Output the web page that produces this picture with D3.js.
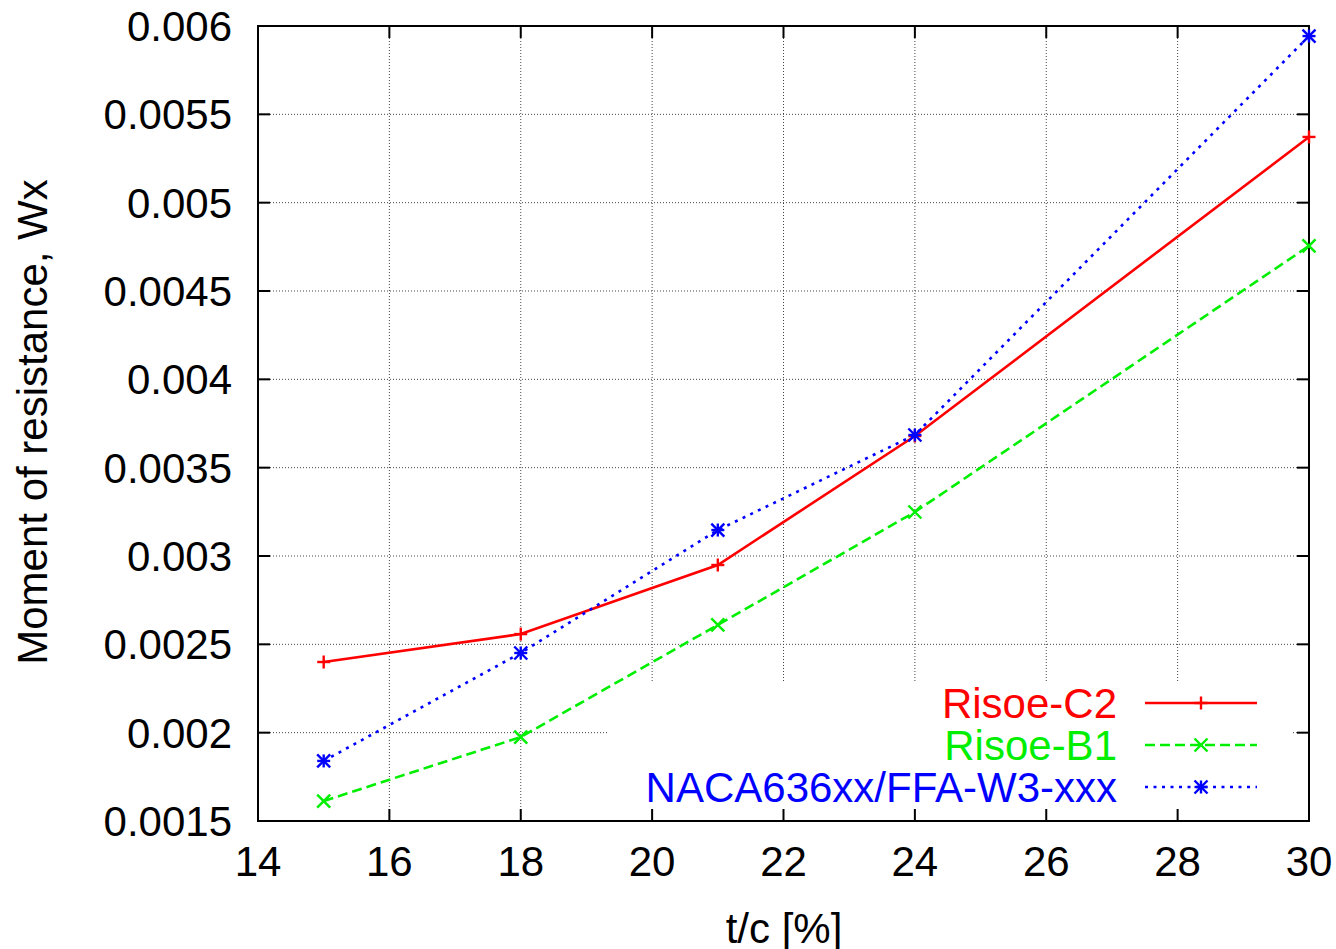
<!DOCTYPE html>
<html>
<head>
<meta charset="utf-8">
<script src="https://cdn.jsdelivr.net/npm/d3@7"></script>
<style>
  html, body { margin: 0; padding: 0; background: #fff; }
  svg { display: block; font-family: "Liberation Sans", Arial, sans-serif; }
</style>
</head>
<body>
<svg id="chart" width="1336" height="949"></svg>
<script>
// Thickness ratio t/c in percent
const thickness = [15, 18, 21, 24, 30];

// Moment of resistance Wx for each airfoil family
const risoeC2 = [0.00240, 0.002558, 0.002949, 0.003679, 0.005372];
const risoeB1 = [0.001613, 0.001975, 0.00261, 0.003249, 0.004755];
const naca636 = [0.00184, 0.002451, 0.003147, 0.003685, 0.005943];

const seriesNames = ["Risoe-C2", "Risoe-B1", "NACA636xx/FFA-W3-xxx"];

const xTicks = [14, 16, 18, 20, 22, 24, 26, 28, 30];
const yTicks = [0.0015, 0.002, 0.0025, 0.003, 0.0035, 0.004, 0.0045, 0.005, 0.0055, 0.006];
const yTickLabels = ["0.0015", "0.002", "0.0025", "0.003", "0.0035", "0.004", "0.0045", "0.005", "0.0055", "0.006"];

const series = [
  { name: seriesNames[0], values: risoeC2, color: "#ff0000", dash: null, marker: "plus" },
  { name: seriesNames[1], values: risoeB1, color: "#00ee00", dash: "10,5", marker: "cross" },
  { name: seriesNames[2], values: naca636, color: "#0000ff", dash: "3,5.5", marker: "star" }
];

const svg = d3.select("#chart");
const L = 258, R = 1309, T = 26, B = 821;

const x = d3.scaleLinear().domain([14, 30]).range([L, R]);
const y = d3.scaleLinear().domain([0.0015, 0.006]).range([B, T]);

const fontSize = 42;

// grid
const grid = svg.append("g").attr("stroke", "#444").attr("stroke-width", 1)
  .attr("stroke-dasharray", "1,2");
xTicks.slice(1, -1).forEach(v => {
  grid.append("line").attr("x1", x(v)).attr("x2", x(v)).attr("y1", T).attr("y2", B);
});
yTicks.slice(1, -1).forEach(v => {
  grid.append("line").attr("x1", L).attr("x2", R).attr("y1", y(v)).attr("y2", y(v));
});

// blank the grid behind the key
svg.append("rect").attr("x", 607).attr("y", 682).attr("width", 685).attr("height", B - 682)
  .attr("fill", "#fff");

// ticks (inward, mirrored)
const tickLen = 12;
const ticks = svg.append("g").attr("stroke", "#000").attr("stroke-width", 2);
xTicks.forEach(v => {
  ticks.append("line").attr("x1", x(v)).attr("x2", x(v)).attr("y1", B).attr("y2", B - tickLen);
  ticks.append("line").attr("x1", x(v)).attr("x2", x(v)).attr("y1", T).attr("y2", T + tickLen);
});
yTicks.forEach(v => {
  ticks.append("line").attr("x1", L).attr("x2", L + tickLen).attr("y1", y(v)).attr("y2", y(v));
  ticks.append("line").attr("x1", R).attr("x2", R - tickLen).attr("y1", y(v)).attr("y2", y(v));
});

// border
svg.append("rect").attr("x", L).attr("y", T).attr("width", R - L).attr("height", B - T)
  .attr("fill", "none").attr("stroke", "#000").attr("stroke-width", 2);

// tick labels
svg.append("g").selectAll("text").data(xTicks).join("text")
  .attr("x", d => x(d)).attr("y", B + 55)
  .attr("text-anchor", "middle").attr("font-size", fontSize).attr("fill", "#000")
  .text(d => d);
svg.append("g").selectAll("text").data(yTicks).join("text")
  .attr("x", 232).attr("y", d => y(d) + 15)
  .attr("text-anchor", "end").attr("font-size", fontSize).attr("fill", "#000")
  .text((d, i) => yTickLabels[i]);

// axis titles
svg.append("text").attr("x", 784).attr("y", 943).attr("text-anchor", "middle")
  .attr("font-size", fontSize).attr("fill", "#000").text("t/c [%]");
svg.append("text").attr("transform", "translate(47,422) rotate(-90)")
  .attr("text-anchor", "middle").attr("font-size", fontSize).attr("fill", "#000")
  .text("Moment of resistance, Wx");

// markers
function marker(g, kind, cx, cy, color) {
  const s = 6.5;
  const m = g.append("g").attr("stroke", color).attr("stroke-width", 2.4).attr("fill", "none");
  const plus = () => {
    m.append("line").attr("x1", cx - s).attr("x2", cx + s).attr("y1", cy).attr("y2", cy);
    m.append("line").attr("x1", cx).attr("x2", cx).attr("y1", cy - s).attr("y2", cy + s);
  };
  const cross = () => {
    m.append("line").attr("x1", cx - s).attr("x2", cx + s).attr("y1", cy - s).attr("y2", cy + s);
    m.append("line").attr("x1", cx - s).attr("x2", cx + s).attr("y1", cy + s).attr("y2", cy - s);
  };
  if (kind === "plus") plus();
  else if (kind === "cross") cross();
  else { plus(); cross(); }
}

const line = d3.line().x(d => x(d[0])).y(d => y(d[1]));

series.forEach(s => {
  const pts = thickness.map((t, i) => [t, s.values[i]]);
  svg.append("path").datum(pts).attr("d", line)
    .attr("fill", "none").attr("stroke", s.color).attr("stroke-width", 2.6)
    .attr("stroke-dasharray", s.dash);
  const g = svg.append("g");
  pts.forEach(p => marker(g, s.marker, x(p[0]), y(p[1]), s.color));
});

// key
const keyRows = [703, 745, 787];
series.forEach((s, i) => {
  const ky = keyRows[i];
  svg.append("text").attr("x", 1117).attr("y", ky + 15).attr("text-anchor", "end")
    .attr("font-size", fontSize).attr("fill", s.color).text(s.name);
  svg.append("line").attr("x1", 1145).attr("x2", 1257).attr("y1", ky).attr("y2", ky)
    .attr("stroke", s.color).attr("stroke-width", 2.6).attr("stroke-dasharray", s.dash);
  marker(svg, s.marker, 1201, ky, s.color);
});
</script>
</body>
</html>
